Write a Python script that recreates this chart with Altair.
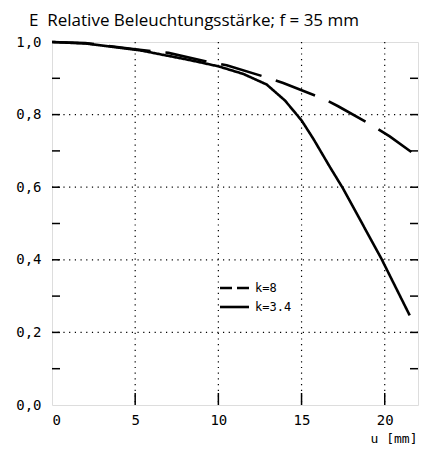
import altair as alt
import pandas as pd

# k = 8 (dashed)
u_k8 = [0, 2, 5, 7, 9.4, 10.5, 13, 13.9, 16.3, 17.2, 19.4, 20.3, 21.6]
v_k8 = [1.0, 0.997, 0.98, 0.97, 0.945, 0.936, 0.901, 0.887, 0.844, 0.823, 0.766, 0.740, 0.697]
# k = 3.4 (solid)
u_k34 = [0, 2, 5.3, 8.3, 10, 11.5, 12.9, 14, 15, 15.7, 16.7, 17.5, 19.8, 21.5]
v_k34 = [1.0, 0.996, 0.977, 0.95, 0.933, 0.912, 0.883, 0.839, 0.784, 0.734, 0.656, 0.596, 0.403, 0.247]

x_labels = [0, 5, 10, 15, 20]
x_grid = [5, 10, 15, 20]
y_labels = [0.0, 0.2, 0.4, 0.6, 0.8, 1.0]
y_grid = [0.2, 0.4, 0.6, 0.8]
y_minor = [0.1, 0.2, 0.3, 0.4, 0.5, 0.6, 0.7, 0.8, 0.9]
series_names = ["k=8", "k=3.4"]

W, H = 366, 363
MONO = "DejaVu Sans Mono"

df = pd.concat([
    pd.DataFrame({"u": u_k8, "v": v_k8, "k": series_names[0]}),
    pd.DataFrame({"u": u_k34, "v": v_k34, "k": series_names[1]}),
])

xs = alt.Scale(domain=[0, 22], nice=False, zero=False)
ys = alt.Scale(domain=[0, 1.0], nice=False)

x_axis = alt.Axis(
    values=x_labels, grid=False, domain=False, ticks=False,
    labelFont=MONO, labelFontSize=14, labelColor="black", labelPadding=8,
    title="u [mm]", titleFont=MONO, titleFontSize=13, titleFontWeight="normal",
    titleColor="black", titleAnchor="end", titleAlign="right",
    titleX=365, titleY=37, titleBaseline="alphabetic")
y_axis = alt.Axis(
    values=y_labels, grid=False, domain=False, ticks=False,
    labelExpr="replace(format(datum.value, '.1f'), '.', ',')",
    labelFont=MONO, labelFontSize=14, labelColor="black", labelPadding=11,
    title=None)

lines = alt.Chart(df).mark_line(color="black", strokeWidth=2.6).encode(
    x=alt.X("u:Q", scale=xs, axis=x_axis),
    y=alt.Y("v:Q", scale=ys, axis=y_axis),
    strokeDash=alt.StrokeDash("k:N", scale=alt.Scale(domain=series_names, range=[[42, 15], [1, 0]]), legend=None),
)

grid_x = alt.Chart(pd.DataFrame({"u": x_grid})).mark_rule(
    color="black", strokeWidth=1.2, strokeDash=[1.2, 4.5]).encode(
    x=alt.X("u:Q", scale=xs, axis=x_axis), y=alt.value(0), y2=alt.value(H))
grid_y = alt.Chart(pd.DataFrame({"v": y_grid})).mark_rule(
    color="black", strokeWidth=1.2, strokeDash=[1.2, 4.5]).encode(
    y=alt.Y("v:Q", scale=ys, axis=y_axis), x=alt.value(0), x2=alt.value(W))

ticks_x = alt.Chart(pd.DataFrame({"u": x_grid})).mark_rule(
    color="black", strokeWidth=1.5).encode(
    x=alt.X("u:Q", scale=xs, axis=x_axis), y=alt.value(H), y2=alt.value(H - 12))
ticks_yl = alt.Chart(pd.DataFrame({"v": y_minor})).mark_rule(
    color="black", strokeWidth=1.5).encode(
    y=alt.Y("v:Q", scale=ys, axis=y_axis), x=alt.value(0), x2=alt.value(8))
ticks_yr = alt.Chart(pd.DataFrame({"v": y_minor})).mark_rule(
    color="black", strokeWidth=1.5).encode(
    y=alt.Y("v:Q", scale=ys, axis=y_axis), x=alt.value(W), x2=alt.value(W - 8))

# manual legend
one = pd.DataFrame({"a": [0]})
leg1 = alt.Chart(one).mark_rule(color="black", strokeWidth=2.6, strokeDash=[12, 5]).encode(
    y=alt.value(246), x=alt.value(168), x2=alt.value(197))
leg2 = alt.Chart(one).mark_rule(color="black", strokeWidth=2.6).encode(
    y=alt.value(265), x=alt.value(168), x2=alt.value(197))
leg1t = alt.Chart(one).mark_text(align="left", baseline="middle", font=MONO, fontSize=12, color="black").encode(
    y=alt.value(246), x=alt.value(203), text=alt.value(series_names[0]))
leg2t = alt.Chart(one).mark_text(align="left", baseline="middle", font=MONO, fontSize=12, color="black").encode(
    y=alt.value(265), x=alt.value(203), text=alt.value(series_names[1]))

chart = alt.layer(lines, grid_x, grid_y, ticks_x, ticks_yl, ticks_yr, leg1, leg2, leg1t, leg2t).properties(
    width=W, height=H,
    autosize=alt.AutoSizeParams(type="none"),
    padding={"left": 44, "top": 34, "right": 4, "bottom": 39},
    title=alt.TitleParams("E\u00a0 Relative Beleuchtungsstärke; f = 35 mm", anchor="start", frame="group",
                          dx=-23, offset=5, font="Open Sans", fontSize=17,
                          fontWeight="normal", color="black"),
).configure_view(stroke="black", strokeWidth=1.6).configure(background="white")

chart.save("out.html", embed_options={"renderer": "svg", "actions": False})
